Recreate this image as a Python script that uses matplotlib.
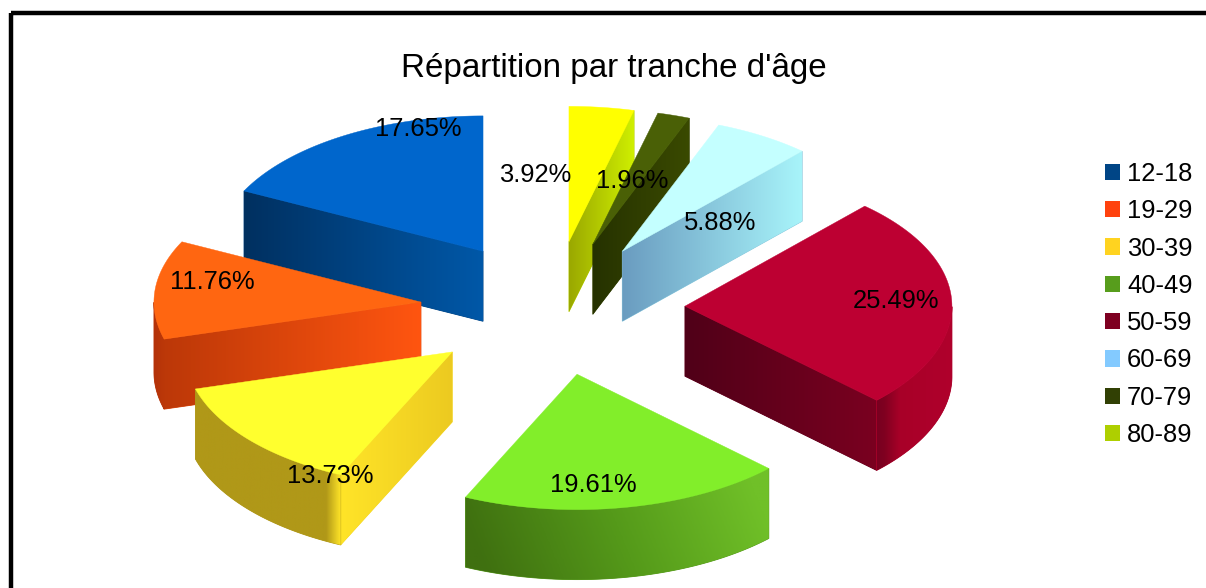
import numpy as np
import matplotlib as mpl

mpl.use("Agg")

import matplotlib.pyplot as plt
from matplotlib.colors import LinearSegmentedColormap
from matplotlib.patches import Patch, PathPatch, Polygon, Rectangle
from matplotlib.path import Path

plt.rcParams["font.family"] = ["Liberation Sans", "DejaVu Sans"]

# data
TITLE = "Répartition par tranche d'âge"
tranches = ["12-18", "19-29", "30-39", "40-49", "50-59", "60-69", "70-79", "80-89"]
pourcents = [17.65, 11.76, 13.73, 19.61, 25.49, 5.88, 1.96, 3.92]

# legend colours and lit top faces
legend_colors = ["#004586", "#ff420e", "#ffd320", "#579d1c", "#7e0021", "#83caff", "#314004", "#aecf00"]
top_colors = ["#0066cc", "#ff6611", "#ffff2e", "#82ee2a", "#bd0032", "#c4ffff", "#4a6006", "#ffff00"]

# side shading, left to right across each face: (position, colour)
cut_shades = [
    [(0, "#003060"), (1, "#0058a8")],
    [(0, "#bc3808"), (1, "#ff5510")],
    [(0, "#ffe428"), (1, "#ecca20")],
    None,
    [(0, "#500018"), (1, "#7a0020")],
    [(0, "#6a9cc0"), (1, "#a8f4fa")],
    [(0, "#263200"), (1, "#3a4a00")],
    [(0, "#9aa800"), (1, "#d0f000")],
]
rim_shades = [
    None,
    [(0, "#b4320a"), (1, "#bc3808")],
    [(0, "#b09818"), (0.9, "#b09818"), (1, "#ffe428")],
    [(0, "#3f7010"), (0.5, "#559a1a"), (1, "#70c028")],
    [(0, "#780020"), (0.1, "#800020"), (0.3, "#a80028"), (1, "#b0002c")],
    None,
    None,
    None,
]
rim_tilt = [0, 0, 0, 0.15, 0, 0, 0, 0]

# pie projection, in pixels
CX, CY = 552.7, 308.3
RADIUS = 267
SQUASH = 0.507
EXPLODE = 132.3
DEPTH = 70

label_pos = [(418, 129), (212, 282), (330, 476), (593, 485), (896, 301), (720, 223), (632, 181), (535, 175)]
draw_order = [0, 7, 6, 5, 4, 1, 2, 3]

fig = plt.figure(figsize=(12.06, 5.88), dpi=100)
ax = fig.add_axes([0, 0, 1, 1])
ax.set_axis_off()


def project(angle, dist, x0, y0):
    rad = np.radians(angle)
    return x0 + dist * np.cos(rad), y0 - dist * SQUASH * np.sin(rad)


def shaded_face(xs, ys, stops, z, tilt=0):
    pts = np.column_stack([xs, ys])
    cmap = LinearSegmentedColormap.from_list("face", stops)
    # solid underlay so the seam between two faces does not show white
    ax.add_patch(Polygon(pts, closed=True, facecolor=cmap(0.5), edgecolor=cmap(0.5), linewidth=0.6, zorder=z - 0.5))
    gx, gy = np.meshgrid(np.linspace(0, 1, 256), np.linspace(0, 1, 64))
    im = ax.imshow(
        np.clip(gx - tilt * (gy - 0.5), 0, 1), cmap=cmap, vmin=0, vmax=1, aspect="auto", origin="upper",
        extent=(pts[:, 0].min(), pts[:, 0].max(), pts[:, 1].max(), pts[:, 1].min()), zorder=z,
    )
    im.set_clip_path(PathPatch(Path(np.vstack([pts, pts[:1]]), closed=True), transform=ax.transData))


edges = 90 + 360 * np.cumsum([0] + pourcents) / sum(pourcents)

for i in draw_order:
    a0, a1 = edges[i], edges[i + 1]
    tip_x, tip_y = project((a0 + a1) / 2, EXPLODE, CX, CY)
    z = 10 + draw_order.index(i) * 3

    # flat cut wall, only one can face the viewer
    for a, visible in ((a0, np.cos(np.radians(a0)) > 1e-6), (a1, np.cos(np.radians(a1)) < -1e-6)):
        if visible and cut_shades[i]:
            rx, ry = project(a, RADIUS, tip_x, tip_y)
            shaded_face([tip_x, rx, rx, tip_x], [tip_y, ry, ry + DEPTH, tip_y + DEPTH], cut_shades[i], z)

    # outer wall on the front half of the ellipse
    arc = np.linspace(a0, a1, 400)
    front = arc[np.sin(np.radians(arc)) < 0]
    if len(front) > 1 and rim_shades[i]:
        rx, ry = project(front, RADIUS, tip_x, tip_y)
        shaded_face(np.r_[rx, rx[::-1]], np.r_[ry, ry[::-1] + DEPTH], rim_shades[i], z + 1, rim_tilt[i])

    # top face
    rx, ry = project(arc, RADIUS, tip_x, tip_y)
    ax.add_patch(Polygon(np.column_stack([np.r_[tip_x, rx], np.r_[tip_y, ry]]), closed=True,
                         facecolor=top_colors[i], edgecolor=top_colors[i], linewidth=0.3, zorder=z + 2))

for (x, y), val in zip(label_pos, pourcents):
    ax.text(x, y, f"{val:.2f}%", ha="center", va="center", fontsize=18.4, color="black", zorder=60)

ax.text(614, 68, TITLE, ha="center", va="center", fontsize=23.9, color="black", zorder=60)

# chart frame runs off the right and bottom of the picture
ax.add_patch(Rectangle((10.5, 13), 1400, 800, fill=False, edgecolor="black", linewidth=3.2,
                       joinstyle="round", zorder=70))

ax.set_xlim(0, 1206)
ax.set_ylim(588, 0)

handles = [Patch(facecolor=c, edgecolor="none") for c in legend_colors]
ax.legend(
    handles, tranches, loc="upper left", bbox_to_anchor=(1105 / 1206, 1 - 162 / 588), frameon=False,
    fontsize=18.4, handlelength=0.6, handleheight=0.6, handletextpad=0.26, labelspacing=0.52,
    borderpad=0, borderaxespad=0,
)

fig.savefig("out.png", dpi=100)
